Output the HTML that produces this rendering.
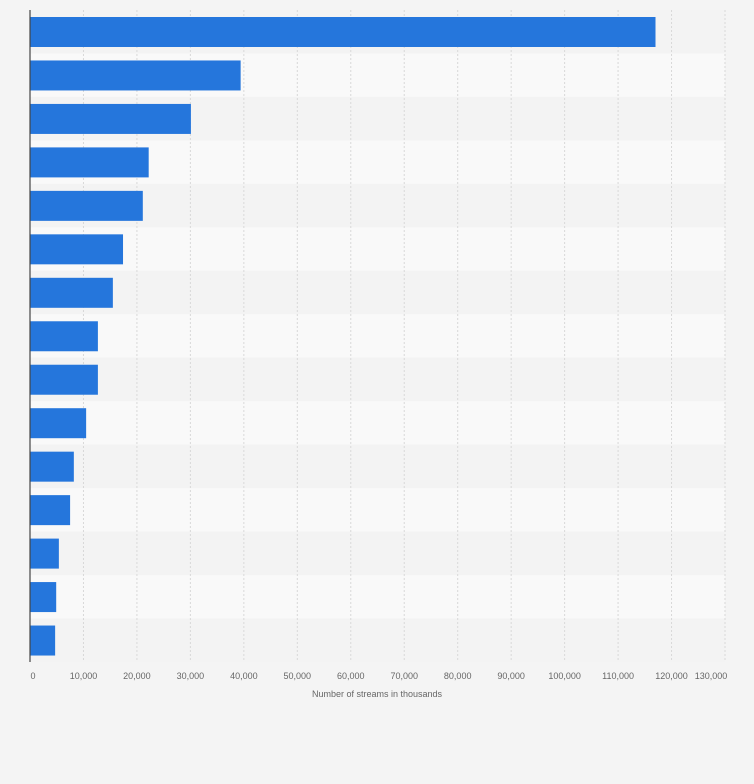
<!DOCTYPE html>
<html><head><meta charset="utf-8"><style>
body{margin:0;background:#f4f4f4;font-family:"Liberation Sans",sans-serif}
</style></head><body>
<svg id="chart" width="754" height="779" xmlns="http://www.w3.org/2000/svg"></svg>
<script>
const categories=["1","2","3","4","5","6","7","8","9","10","11","12","13","14","15"];
const values=[117000,39400,30100,22200,21100,17400,15500,12700,12700,10500,8200,7500,5400,4900,4700];
const ticks=[0,10000,20000,30000,40000,50000,60000,70000,80000,90000,100000,110000,120000,130000];
const tickLabels=["0","10,000","20,000","30,000","40,000","50,000","60,000","70,000","80,000","90,000","100,000","110,000","120,000","130,000"];
const svg=document.getElementById('chart');
const NS="http://www.w3.org/2000/svg";
const x0=30,x1=725,plotTop=10,plotBottom=662;
const xs=v=>x0+(v/130000)*(x1-x0);
const rowH=(plotBottom-plotTop)/categories.length;
function mk(t,a){const e=document.createElementNS(NS,t);for(const k in a)e.setAttribute(k,a[k]);svg.appendChild(e);return e;}
categories.forEach((c,i)=>{const r=mk('rect',{x:x0,y:plotTop+i*rowH,width:x1-x0,height:rowH,fill:i%2?'#f9f9f9':'#f3f3f3'});

});
ticks.forEach((t,i)=>{if(i>0){const l=mk('line',{x1:xs(t),x2:xs(t),y1:plotTop,y2:plotBottom,stroke:'#d8d8d8','stroke-dasharray':'2,2','stroke-width':1});

}
let lx=xs(t);if(i==0)lx+=3;if(i==ticks.length-1)lx-=14;
const tx=mk('text',{x:lx,y:679,'text-anchor':'middle','font-size':'9','fill':'#666'});tx.textContent=tickLabels[i];

});
values.forEach((v,i)=>{const b=mk('rect',{x:x0,y:plotTop+i*rowH+7,width:xs(v)-x0,height:30,fill:'#2576dc'});

});
const ax=mk('line',{x1:x0,x2:x0,y1:plotTop,y2:plotBottom,stroke:'#444','stroke-width':1.2});


const tt=mk('text',{x:377,y:697,'text-anchor':'middle','font-size':'9','fill':'#666'});tt.textContent='Number of streams in thousands';


</script>
</body></html>
